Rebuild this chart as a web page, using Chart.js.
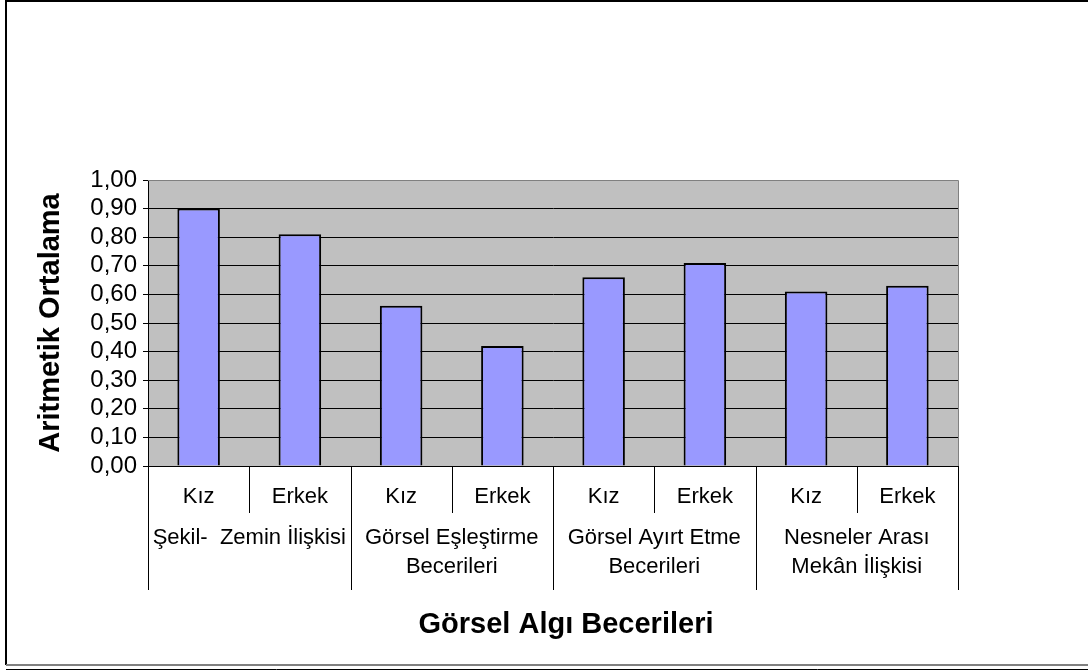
<!DOCTYPE html>
<html>
<head>
<meta charset="utf-8">
<script src="https://cdn.jsdelivr.net/npm/chart.js@4.4.0/dist/chart.umd.min.js"></script>
<style>
  body { margin: 0; background: #fff; }
  canvas { display: block; }
</style>
</head>
<body>
<canvas id="myChart" width="1088" height="672"></canvas>
<script>
'use strict';

// DATA
let genders = ['Kız', 'Erkek', 'Kız', 'Erkek', 'Kız', 'Erkek', 'Kız', 'Erkek'];
let skillGroups = [
  ['Şekil-  Zemin İlişkisi'],
  ['Görsel Eşleştirme', 'Becerileri'],
  ['Görsel Ayırt Etme', 'Becerileri'],
  ['Nesneler Arası', 'Mekân İlişkisi']
];
let means = [0.90, 0.81, 0.56, 0.42, 0.66, 0.71, 0.61, 0.63];
let yTicks = [0, 0.1, 0.2, 0.3, 0.4, 0.5, 0.6, 0.7, 0.8, 0.9, 1.0];
let yTitle = 'Aritmetik Ortalama';
let xTitle = 'Görsel Algı Becerileri';

const FONT = '"Liberation Sans", Arial, sans-serif';

// draws the gray plot area, the frame and the two level category labels
const excelLook = {
  id: 'excelLook',
  beforeDraw(chart) {
    const ctx = chart.ctx;
    const a = chart.chartArea;
    ctx.save();
    ctx.fillStyle = '#c0c0c0';
    ctx.fillRect(a.left, a.top, a.right - a.left, a.bottom - a.top);

    // outer frame
    ctx.strokeStyle = '#000';
    ctx.lineWidth = 2;
    ctx.beginPath();
    ctx.moveTo(6, 665);
    ctx.lineTo(6, 1);
    ctx.lineTo(1088, 1);
    ctx.stroke();
    ctx.strokeStyle = '#808080';
    ctx.lineWidth = 2;
    ctx.beginPath();
    ctx.moveTo(6, 665);
    ctx.lineTo(1088, 665);
    ctx.stroke();
    ctx.strokeStyle = '#000';
    ctx.lineWidth = 1;
    ctx.beginPath();
    ctx.moveTo(6, 669.5);
    ctx.lineTo(1088, 669.5);
    ctx.stroke();
    ctx.restore();
  },
  afterDraw(chart) {
    const ctx = chart.ctx;
    const a = chart.chartArea;
    const x = chart.scales.x;
    ctx.save();

    // gray border on top and right of the plot
    ctx.strokeStyle = '#808080';
    ctx.lineWidth = 1;
    ctx.beginPath();
    ctx.moveTo(a.left, a.top + 0.5);
    ctx.lineTo(a.right + 0.5, a.top + 0.5);
    ctx.lineTo(a.right + 0.5, a.bottom);
    ctx.stroke();

    // separators under the axis
    let step = (a.right - a.left) / genders.length;
    ctx.strokeStyle = '#000';
    for (let i = 0; i <= genders.length; i++) {
      let px = Math.round(a.left + step * i) + 0.5;
      let len = (i % 2 === 0) ? 124 : 47;
      ctx.beginPath();
      ctx.moveTo(px, a.bottom);
      ctx.lineTo(px, a.bottom + len);
      ctx.stroke();
    }

    ctx.fillStyle = '#000';
    ctx.textAlign = 'center';
    ctx.textBaseline = 'middle';
    ctx.font = '22px ' + FONT;
    for (let i = 0; i < genders.length; i++) {
      ctx.fillText(genders[i], x.getPixelForValue(i), a.bottom + 31);
    }
    for (let g = 0; g < skillGroups.length; g++) {
      let cx = (x.getPixelForValue(g * 2) + x.getPixelForValue(g * 2 + 1)) / 2;
      for (let l = 0; l < skillGroups[g].length; l++) {
        ctx.fillText(skillGroups[g][l], cx, a.bottom + 72 + l * 29);
      }
    }

    ctx.font = 'bold 29px ' + FONT;
    ctx.fillText(xTitle, 566, 625);
    ctx.restore();
  }
};

const data = {
  labels: genders,
  datasets: [
    {
      label: yTitle,
      data: means,
      backgroundColor: '#9999ff',
      borderColor: '#000',
      borderWidth: 2,
      barPercentage: 0.42,
      categoryPercentage: 1
    }
  ]
};

const config = {
  type: 'bar',
  data: data,
  options: {
    responsive: false,
    animation: false,
    layout: {
      padding: { left: 0, top: 180, right: 130, bottom: 206 }
    },
    plugins: {
      legend: { display: false },
      tooltip: { enabled: false }
    },
    scales: {
      x: {
        offset: true,
        grid: { display: false },
        ticks: { display: false },
        border: { display: true, color: '#000', width: 1 },
        afterFit: function (scale) { scale.height = 0; }
      },
      y: {
        min: 0,
        max: 1,
        afterBuildTicks: function (scale) {
          scale.ticks = yTicks.map(v => ({ value: v }));
        },
        afterFit: function (scale) { scale.width = 148; },
        grid: {
          color: ctx => (ctx.tick && ctx.tick.value === 1) ? '#808080' : '#000',
          tickColor: '#000',
          tickLength: 5,
          lineWidth: 1
        },
        border: { display: true, color: '#000', width: 1 },
        ticks: {
          autoSkip: false,
          color: '#000',
          padding: 6,
          font: { family: FONT, size: 24 },
          callback: v => v.toFixed(2).replace('.', ',')
        },
        title: {
          display: true,
          text: yTitle,
          color: '#000',
          font: { family: FONT, size: 29, weight: 'bold', lineHeight: 1.2 },
          padding: { top: 34, bottom: 0 }
        }
      }
    }
  },
  plugins: [excelLook]
};

const myChart = new Chart(document.getElementById('myChart'), config);
</script>
</body>
</html>
